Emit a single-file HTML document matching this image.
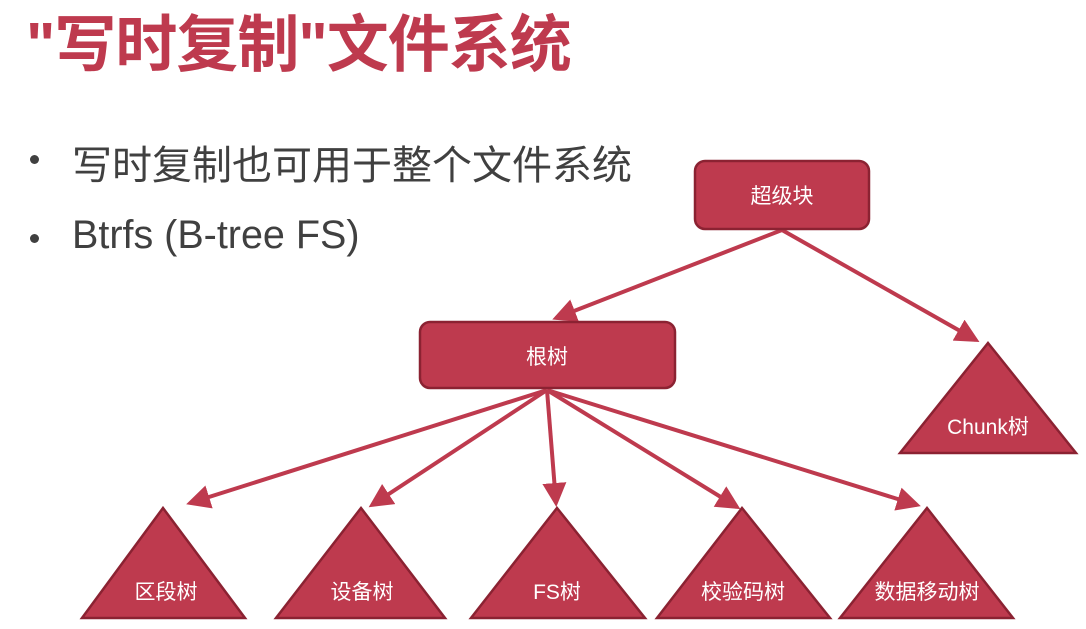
<!DOCTYPE html>
<html><head><meta charset="utf-8"><style>
html,body{margin:0;padding:0;background:#fff;}
body{width:1086px;height:629px;position:relative;overflow:hidden;font-family:"Liberation Sans","Noto Sans CJK SC",sans-serif;}
.t{position:absolute;left:26px;top:-6px;font-size:62px;font-weight:bold;color:#BE3A4E;letter-spacing:-1px;white-space:nowrap;}
.b{position:absolute;left:72px;color:#404040;white-space:nowrap;}
.d{position:absolute;left:30px;width:9px;height:9px;border-radius:50%;background:#404040;}
</style></head><body>
<div class="t">"写时复制"文件系统</div>
<div class="d" style="top:155px"></div>
<div class="b" style="top:133px;font-size:40px;">写时复制也可用于整个文件系统</div>
<div class="d" style="top:234px"></div>
<div class="b" style="top:213px;font-size:39.5px;">Btrfs (B-tree FS)</div>
<svg width="1086" height="629" style="position:absolute;left:0;top:0" font-family="Liberation Sans, Noto Sans CJK SC, sans-serif">
<defs><marker id="a" markerWidth="6" markerHeight="6" refX="5" refY="3" orient="auto" markerUnits="strokeWidth"><path d="M0,0 L6,3 L0,6 z" fill="#BE3A4E"/></marker></defs>
<g stroke="#BE3A4E" stroke-width="4" marker-end="url(#a)">
<line x1="782" y1="230" x2="556" y2="318"/>
<line x1="782" y1="230" x2="976" y2="340"/>
<line x1="547" y1="390" x2="190" y2="503"/>
<line x1="547" y1="390" x2="372" y2="505"/>
<line x1="547" y1="390" x2="556" y2="503"/>
<line x1="547" y1="390" x2="737" y2="507"/>
<line x1="547" y1="390" x2="917" y2="505"/>
</g>
<g fill="#BE3A4E" stroke="#8B2232" stroke-width="2.5">
<rect x="695" y="161" width="174" height="68" rx="10"/>
<rect x="420" y="322" width="255" height="66" rx="10"/>
<polygon points="988,343 1076,453 900,453"/>
<polygon points="163,508 245,618 82,618"/>
<polygon points="361,508 445,618 276,618"/>
<polygon points="557,508 645,618 471,618"/>
<polygon points="742,508 830,618 657,618"/>
<polygon points="927,508 1013,618 840,618"/>
</g>
<g fill="#fff" font-size="21" text-anchor="middle">
<text x="782" y="203">超级块</text>
<text x="547" y="364">根树</text>
<text x="988" y="434">Chunk树</text>
<text x="166" y="599">区段树</text>
<text x="362" y="599">设备树</text>
<text x="557" y="599">FS树</text>
<text x="743" y="599">校验码树</text>
<text x="927" y="599">数据移动树</text>
</g>
</svg>
</body></html>
